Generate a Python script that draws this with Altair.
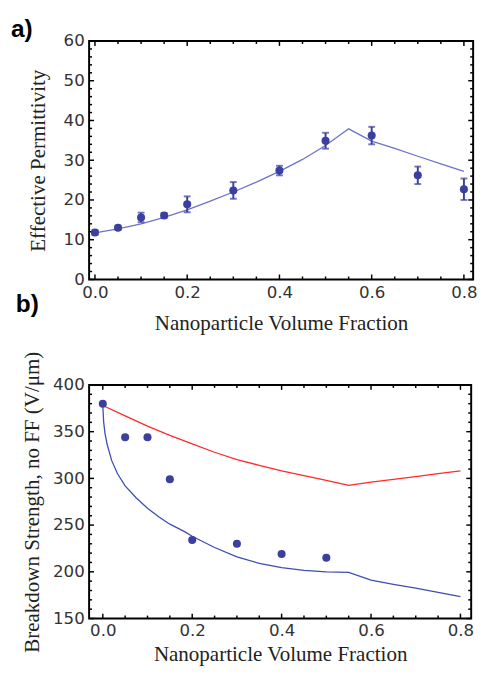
import altair as alt
import pandas as pd

# ---------------- data: panel a ----------------
a_x = [0.0, 0.05, 0.1, 0.15, 0.2, 0.3, 0.4, 0.5, 0.6, 0.7, 0.8]
a_y = [11.8, 13.0, 15.6, 16.1, 18.9, 22.4, 27.4, 34.9, 36.2, 26.2, 22.7]
a_err = [0.6, 0.5, 1.2, 0.6, 2.0, 2.1, 1.2, 2.0, 2.2, 2.2, 2.7]

a_line_x = [0.0, 0.05, 0.1, 0.15, 0.2, 0.25, 0.3, 0.35, 0.4, 0.45, 0.5, 0.55,
            0.6, 0.65, 0.7, 0.75, 0.8]
a_line_y = [11.7, 12.7, 14.0, 15.6, 17.5, 19.7, 22.0, 24.5, 27.2, 30.2, 33.7, 37.9,
            34.8, 33.0, 31.0, 29.1, 27.2]

# ---------------- data: panel b ----------------
b_x = [0.0, 0.05, 0.1, 0.15, 0.2, 0.3, 0.4, 0.5]
b_y = [380, 344, 344, 299, 234, 230, 219, 215]

b_red_x = [0.0, 0.05, 0.1, 0.15, 0.2, 0.25, 0.3, 0.35, 0.4, 0.45, 0.5, 0.55,
           0.6, 0.65, 0.7, 0.75, 0.8]
b_red_y = [378, 367, 356, 346, 337, 328, 320, 314, 308, 303, 298, 292.5,
           296, 299, 302, 305, 308]

b_blue_x = [0.0, 0.002, 0.005, 0.01, 0.02, 0.033, 0.05, 0.075, 0.1, 0.125, 0.15,
            0.183, 0.2, 0.25, 0.3, 0.35, 0.4, 0.45, 0.5, 0.55, 0.6, 0.65, 0.7,
            0.75, 0.8]
b_blue_y = [378, 360, 348, 336, 319, 305, 292, 279, 268, 259, 251,
            243, 238, 226, 216, 209, 204.5, 201.5, 200, 199.5, 191, 186.5, 182.5,
            178, 173.5]

# ---------------- tick values ----------------
x_major = [0.0, 0.2, 0.4, 0.6, 0.8]
x_minor = [0.05, 0.1, 0.15, 0.25, 0.3, 0.35, 0.45, 0.5, 0.55, 0.65, 0.7, 0.75]
a_y_major = [0, 10, 20, 30, 40, 50, 60]
a_y_minor = [2, 4, 6, 8, 12, 14, 16, 18, 22, 24, 26, 28, 32, 34, 36, 38,
             42, 44, 46, 48, 52, 54, 56, 58]
b_y_major = [150, 200, 250, 300, 350, 400]
b_y_minor = [160, 170, 180, 190, 210, 220, 230, 240, 260, 270, 280, 290,
             310, 320, 330, 340, 360, 370, 380, 390]

a_x_domain = [-0.0127, 0.82]
a_y_domain = [0, 60]
b_x_domain = [-0.0306, 0.824]
b_y_domain = [150, 400]

A_W, A_H = 393, 244
B_W, B_H = 391, 239
MAJOR_PX, MINOR_PX = 5, 3

POINT = "#3b3f9e"
LINE_A = "#6e72c8"
LINE_B = "#3f4db0"
RED = "#ff2a2a"

XT = "Nanoparticle Volume Fraction"


def frame_ticks(X, Y, xdom, ydom, w, h, xmaj, xmin, ymaj, ymin):
    """Mathematica-style inward ticks on all four sides of the frame."""
    ux = (xdom[1] - xdom[0]) / w   # data units per pixel
    uy = (ydom[1] - ydom[0]) / h
    rows_x, rows_y = [], []
    for vals, px in ((xmaj, MAJOR_PX), (xmin, MINOR_PX)):
        for v in vals:
            rows_x.append({"v": v, "e0": ydom[0], "e1": ydom[0] + px * uy})
            rows_x.append({"v": v, "e0": ydom[1], "e1": ydom[1] - px * uy})
    for vals, px in ((ymaj, MAJOR_PX), (ymin, MINOR_PX)):
        for v in vals:
            rows_y.append({"v": v, "e0": xdom[0], "e1": xdom[0] + px * ux})
            rows_y.append({"v": v, "e0": xdom[1], "e1": xdom[1] - px * ux})
    tx = alt.Chart(pd.DataFrame(rows_x)).mark_rule(color="black", strokeWidth=1.5).encode(
        x=X("v"), y=Y("e0"), y2="e1:Q",
    )
    ty = alt.Chart(pd.DataFrame(rows_y)).mark_rule(color="black", strokeWidth=1.5).encode(
        y=Y("v"), x=X("e0"), x2="e1:Q",
    )
    return [tx, ty]


def encoders(xdom, ydom, yv, ytitle, xlp, xtp, ytp):
    """Every layer gets the same scale and axis so that the axes merge cleanly."""
    xs = alt.Scale(domain=xdom, nice=False, zero=False)
    ys = alt.Scale(domain=ydom, nice=False, zero=False)
    ax = alt.Axis(orient="bottom", values=x_major, format=".1f", ticks=False, domain=False,
                  grid=False, labelPadding=xlp, labelFlush=True,
                  title=XT, titlePadding=xtp)
    ay = alt.Axis(orient="left", values=yv, format="d", ticks=False, domain=False,
                  grid=False, labelPadding=5, title=ytitle, titlePadding=ytp)

    def X(f):
        return alt.X(f + ":Q", scale=xs, axis=ax, title=XT)

    def Y(f):
        return alt.Y(f + ":Q", scale=ys, axis=ay, title=ytitle)
    return X, Y


# ---------------- panel a ----------------
pts_a = pd.DataFrame({"x": a_x, "y": a_y, "err": a_err})
pts_a["lo"] = pts_a["y"] - pts_a["err"]
pts_a["hi"] = pts_a["y"] + pts_a["err"]
line_a = pd.DataFrame({"x": a_line_x, "y": a_line_y})

XA, YA = encoders(a_x_domain, a_y_domain, a_y_major, "Effective Permittivity", 5, 13, 14)

a_line = alt.Chart(line_a).mark_line(color=LINE_A, strokeWidth=1.3).encode(x=XA("x"), y=YA("y"))
a_rule = alt.Chart(pts_a).mark_rule(color=POINT, strokeWidth=2).encode(
    x=XA("x"), y=YA("lo"), y2="hi:Q")
a_cap_lo = alt.Chart(pts_a).mark_tick(color=POINT, orient="horizontal", size=7, thickness=2).encode(
    x=XA("x"), y=YA("lo"))
a_cap_hi = alt.Chart(pts_a).mark_tick(color=POINT, orient="horizontal", size=7, thickness=2).encode(
    x=XA("x"), y=YA("hi"))
a_pts = alt.Chart(pts_a).mark_circle(color=POINT, size=68, opacity=1).encode(x=XA("x"), y=YA("y"))

panel_a = alt.layer(
    *frame_ticks(XA, YA, a_x_domain, a_y_domain, A_W, A_H,
                 x_major, x_minor, a_y_major, a_y_minor),
    a_line, a_rule, a_cap_lo, a_cap_hi, a_pts,
).properties(
    width=A_W, height=A_H,
    title=alt.TitleParams("a)", anchor="start", frame="group", dx=-80, offset=-10,
                          font="Liberation Sans", fontSize=25, fontWeight="bold", color="black"),
)

# ---------------- panel b ----------------
pts_b = pd.DataFrame({"x": b_x, "y": b_y})
red_b = pd.DataFrame({"x": b_red_x, "y": b_red_y})
blue_b = pd.DataFrame({"x": b_blue_x, "y": b_blue_y})

XB, YB = encoders(b_x_domain, b_y_domain, b_y_major,
                  "Breakdown Strength, no FF (V/\u03bcm)", 4, 6, 9)

b_red = alt.Chart(red_b).mark_line(color=RED, strokeWidth=1.3).encode(x=XB("x"), y=YB("y"))
b_blue = alt.Chart(blue_b).mark_line(color=LINE_B, strokeWidth=1.3).encode(x=XB("x"), y=YB("y"))
b_pts = alt.Chart(pts_b).mark_circle(color=POINT, size=68, opacity=1).encode(x=XB("x"), y=YB("y"))

panel_b = alt.layer(
    *frame_ticks(XB, YB, b_x_domain, b_y_domain, B_W, B_H,
                 x_major, x_minor, b_y_major, b_y_minor),
    b_red, b_blue, b_pts,
).properties(
    width=B_W, height=B_H,
    title=alt.TitleParams("b)", anchor="start", frame="group", dx=-75, offset=35,
                          font="Liberation Sans", fontSize=25, fontWeight="bold", color="black"),
)

chart = alt.vconcat(panel_a, panel_b, spacing=108, bounds="flush").properties(
    padding={"left": 2, "top": 1, "right": 0, "bottom": 0}
).configure_view(
    stroke="black", strokeWidth=2
).configure_axis(
    labelFont="DejaVu Sans", labelFontSize=17, labelColor="#333",
    titleFont="Liberation Serif", titleFontSize=21.5, titleFontWeight="normal",
    titleColor="#222",
)

chart.save("out.html", embed_options={"renderer": "svg", "actions": False})
